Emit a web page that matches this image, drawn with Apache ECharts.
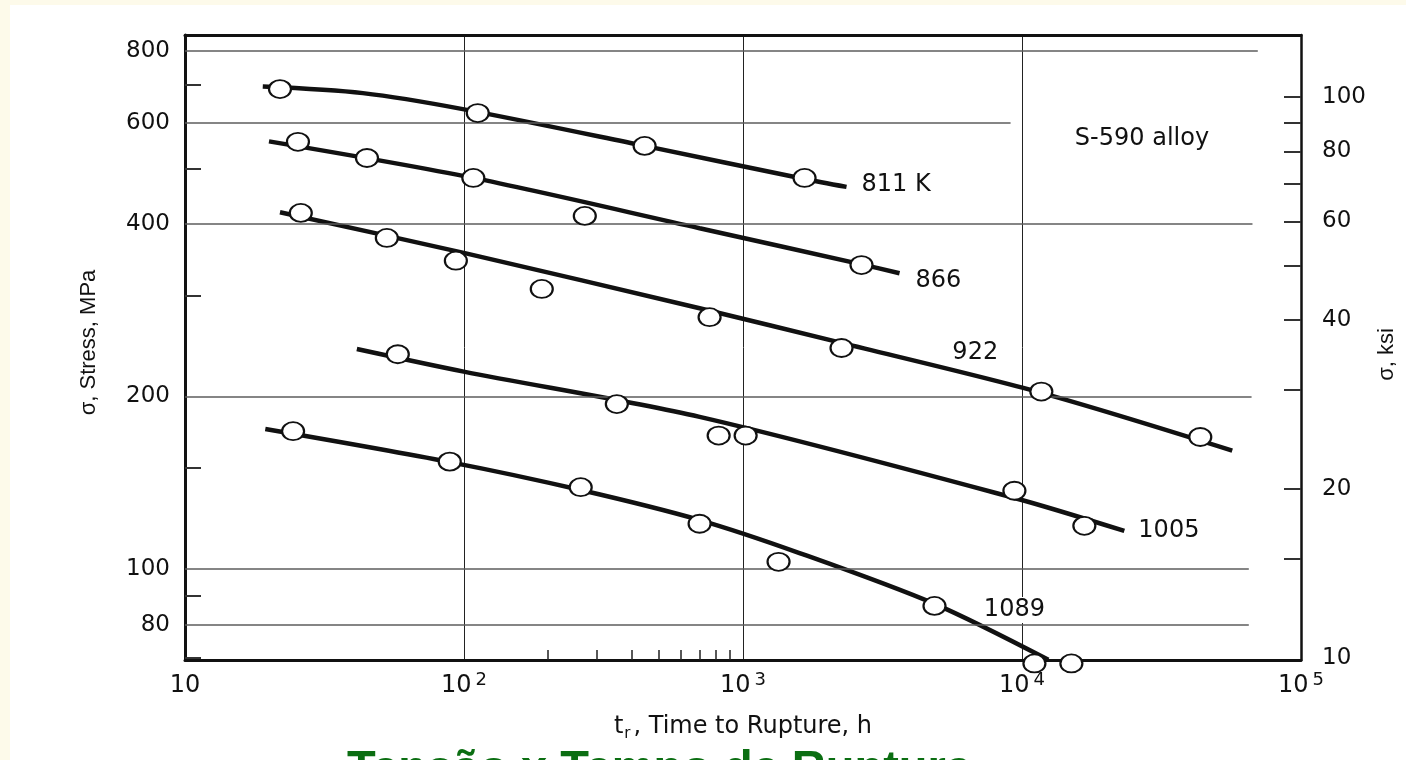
<!DOCTYPE html>
<html>
<head>
<meta charset="utf-8">
<title>S-590 alloy – stress rupture</title>
<script src="https://cdn.jsdelivr.net/npm/echarts@6/dist/echarts.min.js"></script>
<style>
  html, body { margin: 0; padding: 0; background: #fdfaea; }
  #sheet { position: absolute; left: 10px; top: 5px; width: 1396px; height: 755px; background: #ffffff; }
  #chart { position: absolute; left: 0; top: 0; width: 1406px; height: 760px; }
</style>
</head>
<body>
<div id="sheet"></div>
<div id="chart"></div>
<script>
// Stress (MPa) against time to rupture (h) for S-590 alloy at five temperatures (K).
// Each temperature has a fitted curve and the measured rupture points.

// fitted curves: [time h, stress MPa]
const curve811  = [[19.0, 694], [43.4, 676], [99.0, 634], [444, 547], [1662, 479], [2350, 464]];
const curve866  = [[20.0, 557], [108, 481], [699, 393], [2659, 340], [3640, 328]];
const curve922  = [[21.9, 419], [99.8, 356], [699, 285], [2255, 248], [11730, 203], [56700, 161]];
const curve1005 = [[41.3, 242], [99.8, 221], [699, 184.3], [9393, 133.1], [23270, 116.6]];
const curve1089 = [[19.4, 175.5], [88.9, 153.7], [262, 137.4], [699, 121.8], [1594, 106.7], [4857, 87.0], [12430, 69.5]];

// measured points: [time h, stress MPa]
const points811  = [[21.9, 687], [112, 624], [444, 547], [1662, 481]];
const points866  = [[25.4, 556], [44.9, 521], [108, 481], [271, 413], [2659, 339]];
const points922  = [[26.0, 418], [52.9, 378], [93.5, 345], [190, 308], [759, 275], [2255, 243], [11730, 204], [43550, 170]];
const points1005 = [[57.9, 237], [353, 194], [818, 171], [1022, 171], [9393, 137], [16730, 119]];
const points1089 = [[24.4, 174], [88.9, 154], [262, 139], [699, 120], [1341, 103], [4857, 86.3], [11080, 68.5], [15030, 68.5]];

// curve labels
const tempLabels = ['811 K', '866', '922', '1005', '1089'];

// axis ticks and labels
const timeDecades      = [10, 100, 1000, 10000, 100000];
const timeMinorTicks   = [200, 300, 400, 500, 600, 700, 800, 900];
const stressLabels     = [80, 100, 200, 400, 600, 800];
const stressMinorTicks = [70, 90, 150, 300, 500, 700];
const ksiLabels        = [10, 20, 40, 60, 80, 100];
const ksiTicks         = [15, 20, 30, 40, 50, 60, 70, 80, 90, 100];

const FONT = '"DejaVu Sans", "Liberation Sans", sans-serif';
const NAME_FONT = '"Liberation Sans", Arial, sans-serif';
const INK = '#111111';
const ELLIPSE = 'path://M0,10A10,10,0,1,1,20,10A10,10,0,1,1,0,10Z';

// how far right each horizontal grid line runs (in hours)
const gridRunTo = { 800: 70000, 600: 9100, 400: 67000, 200: 66500, 100: 65000, 80: 65000 };

function curve(name, data, extra) {
  return Object.assign({
    name: name, type: 'line', data: data, smooth: 0.3, symbol: 'none',
    lineStyle: { color: INK, width: 4.5 }, z: 3, silent: true, clip: false
  }, extra || {});
}

function points(name, data) {
  return {
    name: name, type: 'scatter', data: data, symbol: ELLIPSE, symbolSize: [22, 18],
    itemStyle: { color: '#ffffff', borderColor: INK, borderWidth: 2, opacity: 1 },
    z: 5, clip: false, silent: true
  };
}

function endLabel(text, dist, dy) {
  return {
    show: true, formatter: text, distance: dist, offset: [0, dy],
    fontSize: 24, color: INK, fontFamily: FONT
  };
}

function inlineLabel(text, coord, bg) {
  return {
    symbol: 'circle', symbolSize: 1, silent: true,
    itemStyle: { color: 'rgba(0,0,0,0)' },
    label: {
      show: true, position: 'inside', formatter: text, fontSize: 24, color: INK,
      fontFamily: FONT, backgroundColor: bg || 'transparent', padding: bg ? [1, 2] : 0
    },
    data: [{ coord: coord }]
  };
}

const chart = echarts.init(document.getElementById('chart'), null, { renderer: 'canvas' });

const option = {
  animation: false,
  backgroundColor: 'transparent',
  grid: { left: 185, right: 105, top: 35, bottom: 100, containLabel: false, outerBoundsMode: 'none' },
  xAxis: [
    {
      type: 'log', logBase: 10, min: 10, max: 100000, position: 'bottom', gridIndex: 0,
      axisLine: { show: true, onZero: false, lineStyle: { color: INK, width: 3 } },
      axisTick: { show: true, inside: true, length: 10, customValues: timeMinorTicks,
                  lineStyle: { color: '#222', width: 1.5 } },
      splitLine: { show: false },
      axisLabel: {
        show: true, customValues: timeDecades, margin: 11, showMinLabel: true, showMaxLabel: true,
        formatter: function (v) {
          const e = Math.round(Math.log10(v));
          return e === 1 ? '{a|10}' : '{a|10}{s|' + e + '}';
        },
        rich: {
          a: { fontSize: 24, lineHeight: 30, color: INK, fontFamily: FONT },
          s: { fontSize: 18, lineHeight: 18, color: INK, fontFamily: FONT, verticalAlign: 'top', padding: [0, 0, 0, 4] }
        }
      },
      name: '{n|t}{r|r}{n|, Time to Rupture, h}',
      nameLocation: 'middle', nameGap: 52, nameMoveOverlap: false,
      nameTextStyle: {
        rich: {
          n: { fontSize: 24, lineHeight: 30, color: INK, fontFamily: FONT },
          r: { fontSize: 15, lineHeight: 14, color: INK, fontFamily: FONT, verticalAlign: 'bottom', padding: [0, 3, 0, 1] }
        }
      }
    },
    {
      type: 'log', logBase: 10, min: 10, max: 100000, position: 'top', gridIndex: 0,
      axisLine: { show: true, onZero: false, lineStyle: { color: INK, width: 3 } },
      axisTick: { show: false },
      axisLabel: { show: false },
      splitLine: { show: true, lineStyle: { color: '#222', width: 1 } }
    }
  ],
  yAxis: [
    {
      type: 'log', logBase: 10, min: 69.45, max: 853.7, position: 'left', gridIndex: 0,
      axisLine: { show: true, onZero: false, lineStyle: { color: INK, width: 3 } },
      axisTick: { show: true, inside: true, length: 16, customValues: stressMinorTicks,
                  lineStyle: { color: '#333', width: 2 } },
      axisLabel: { show: true, customValues: stressLabels, margin: 15, fontSize: 23,
                   color: INK, fontFamily: FONT, showMinLabel: true, showMaxLabel: true },
      splitLine: { show: false },
      name: 'σ, Stress, MPa', nameLocation: 'middle', nameGap: 85, nameRotate: 90, nameMoveOverlap: false,
      nameTextStyle: { fontSize: 22, color: INK, fontFamily: NAME_FONT, padding: [0, 0, 0, 10] }
    },
    {
      type: 'log', logBase: 10, min: 9.9, max: 129, position: 'right', gridIndex: 0,
      alignTicks: false,
      axisLine: { show: true, onZero: false, lineStyle: { color: INK, width: 2.5 } },
      axisTick: { show: true, inside: true, length: 17, customValues: ksiTicks,
                  lineStyle: { color: '#333', width: 2 } },
      axisLabel: { show: true, customValues: ksiLabels, margin: 21, fontSize: 23,
                   color: INK, fontFamily: FONT, showMinLabel: true, showMaxLabel: true },
      splitLine: { show: false },
      name: 'σ, ksi', nameLocation: 'middle', nameGap: 75, nameRotate: 90, nameMoveOverlap: false,
      nameTextStyle: { fontSize: 22, color: INK, fontFamily: NAME_FONT, padding: [0, 14, 0, 0] }
    }
  ],
  graphic: [
    {
      type: 'text', x: 1142, y: 139, silent: true,
      style: { text: 'S-590 alloy', fontSize: 24, fill: INK, fontFamily: FONT,
               align: 'center', verticalAlign: 'middle' }
    },
    {
      type: 'text', left: 347, top: 747, silent: true,
      style: { text: 'Tensão x Tempo de Ruptura', fontSize: 47, fontWeight: 'bold',
               fill: '#0b6e12', fontFamily: NAME_FONT }
    }
  ],
  series: [
    {
      name: 'grid', type: 'line', data: [], silent: true, z: 1,
      markLine: {
        symbol: 'none', silent: true, animation: false,
        lineStyle: { color: '#5c5c5c', width: 1.5, type: 'solid' },
        label: { show: false },
        emphasis: { disabled: true },
        data: stressLabels.map(function (v) { return [{ coord: [10, v] }, { coord: [gridRunTo[v], v] }]; })
      }
    },
    curve(tempLabels[0], curve811, { endLabel: endLabel(tempLabels[0], 15, -2) }),
    curve(tempLabels[1], curve866, { endLabel: endLabel(tempLabels[1], 16, 7) }),
    curve(tempLabels[2], curve922, { markPoint: inlineLabel(tempLabels[2], [6800, 238]) }),
    curve(tempLabels[3], curve1005, { endLabel: endLabel(tempLabels[3], 14, 0) }),
    curve(tempLabels[4], curve1089, { markPoint: inlineLabel(tempLabels[4], [9393, 84.9], '#ffffff') }),
    points(tempLabels[0], points811),
    points(tempLabels[1], points866),
    points(tempLabels[2], points922),
    points(tempLabels[3], points1005),
    points(tempLabels[4], points1089)
  ]
};

chart.setOption(option);
</script>
</body>
</html>
